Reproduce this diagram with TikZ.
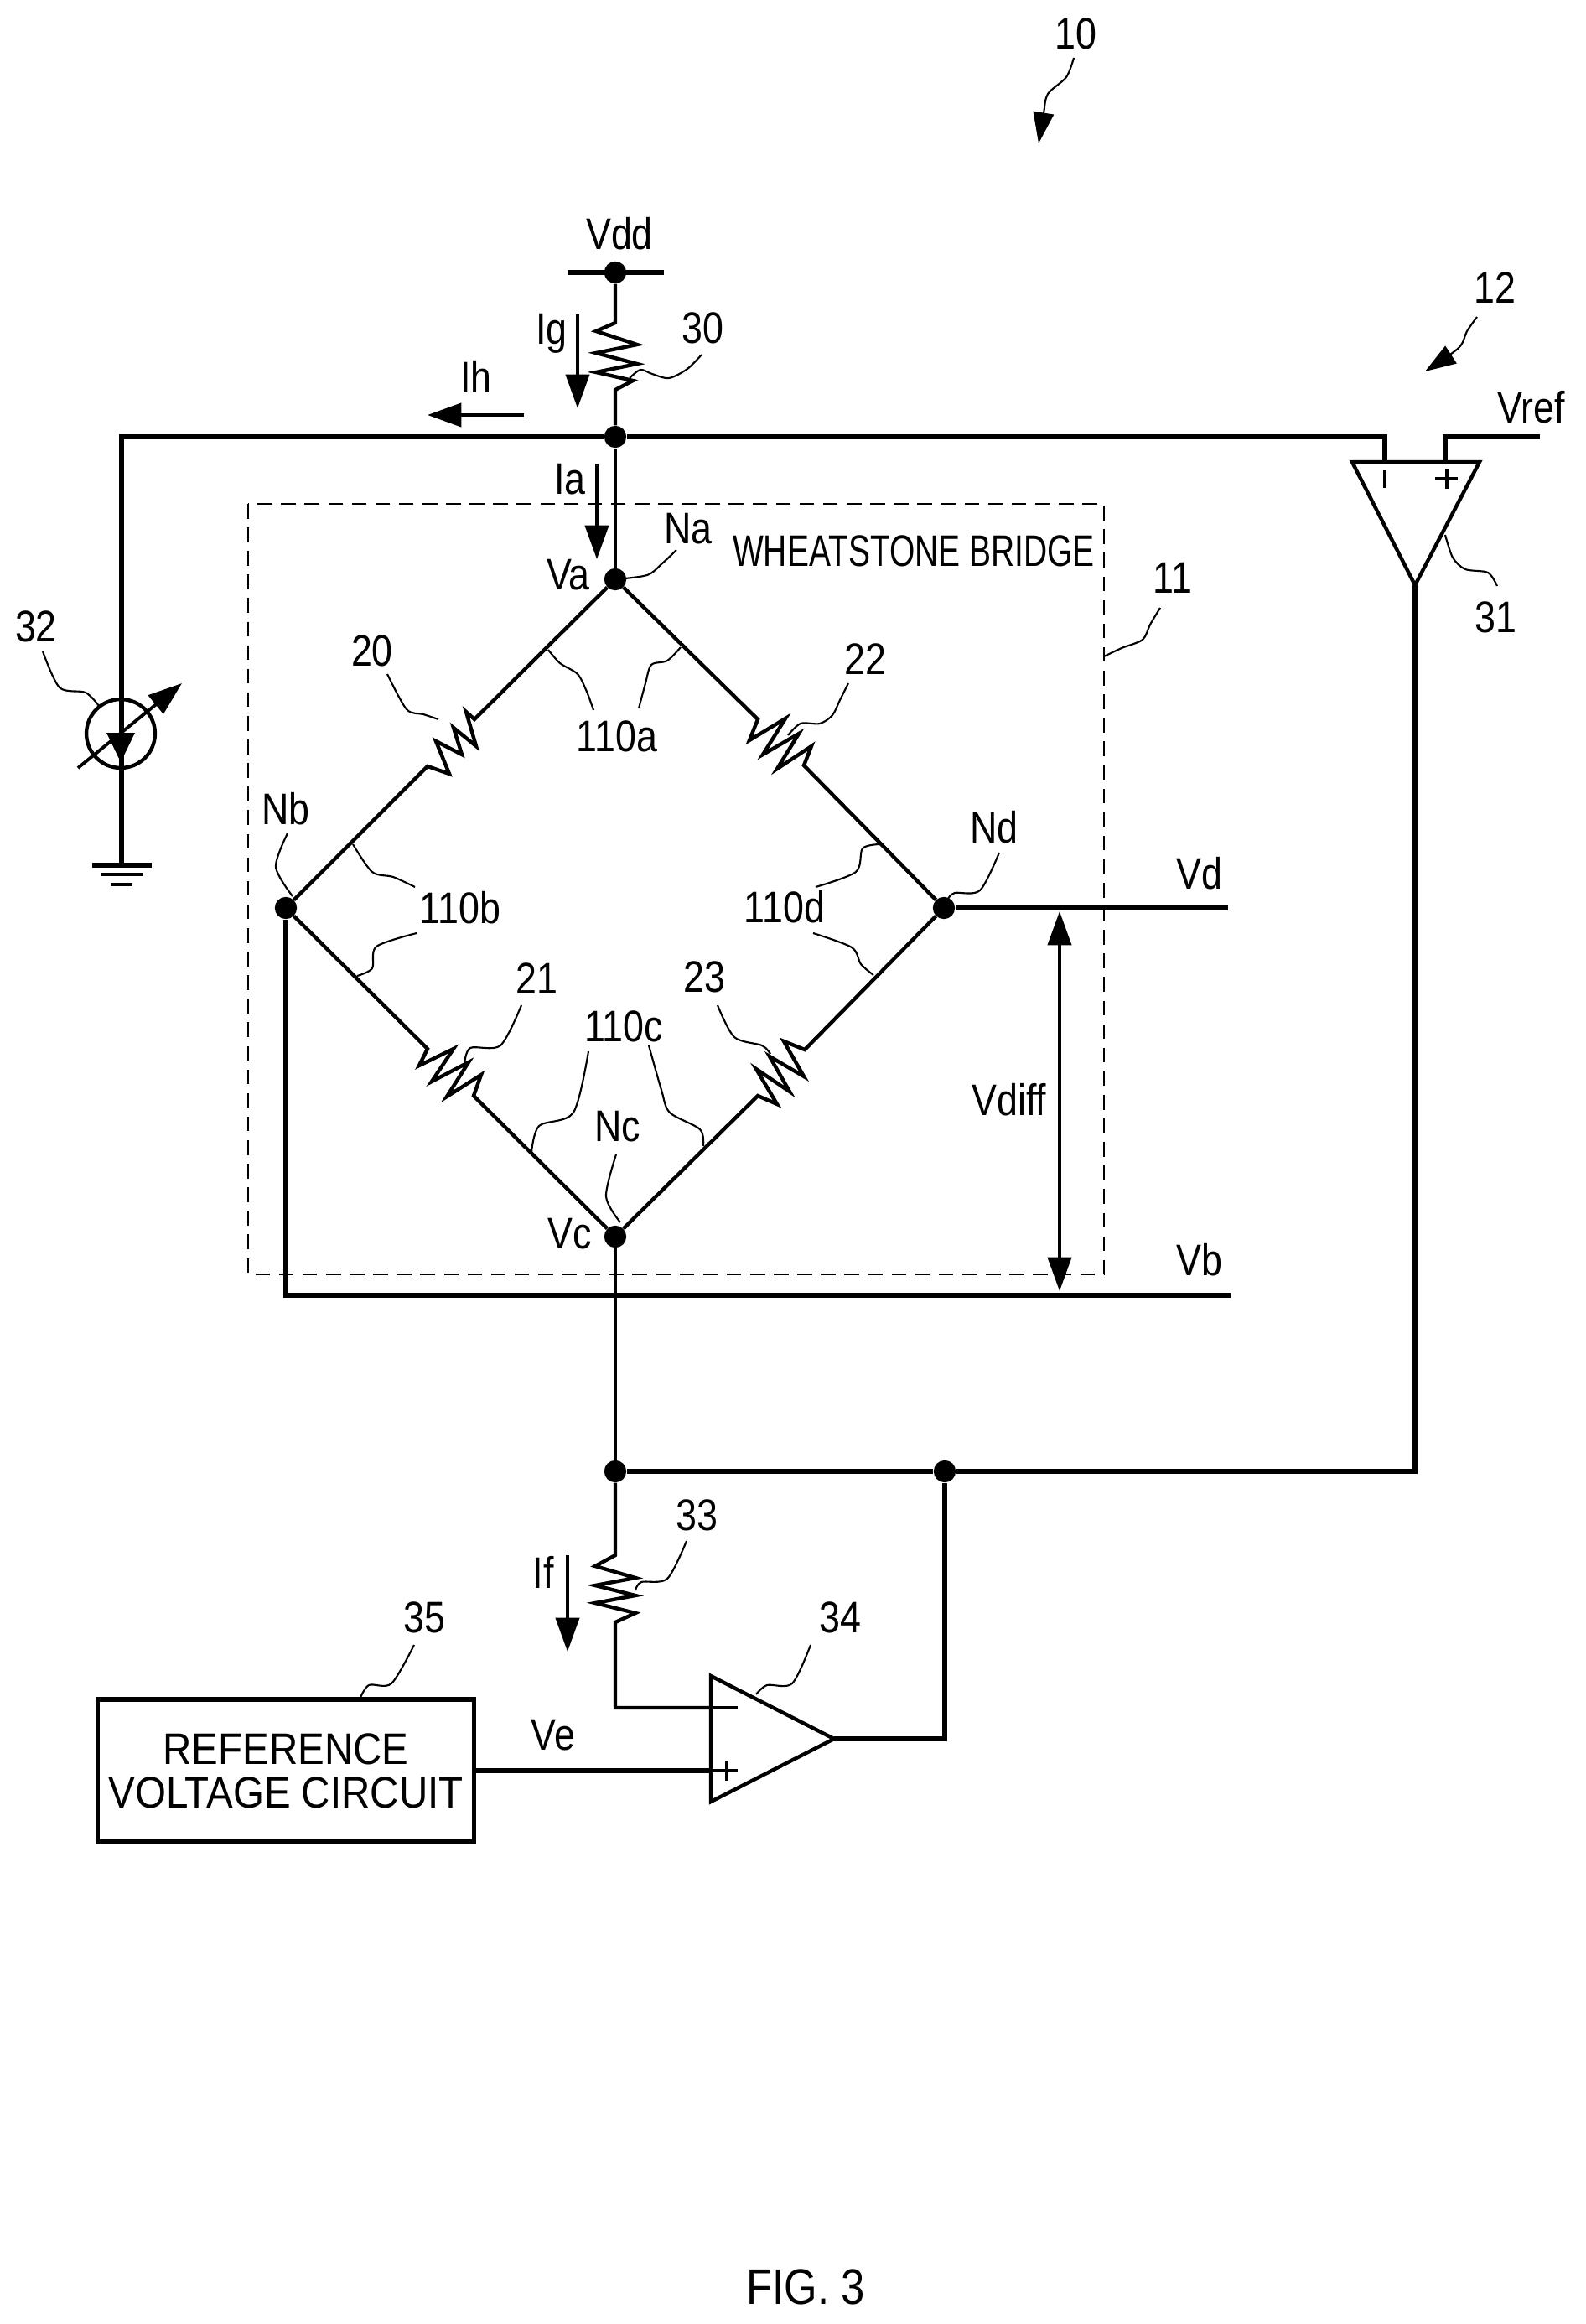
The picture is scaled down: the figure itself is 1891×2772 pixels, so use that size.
\documentclass[tikz,border=0pt]{standalone}
\usepackage{fontspec}
\setmainfont[FakeStretch=0.85]{Liberation Sans}
\usetikzlibrary{arrows.meta}
\tikzset{
  wire/.style={line width=3pt,line join=miter},
  thinwire/.style={line width=2.5pt,line join=miter},
  lead/.style={line width=1.2pt},
  txt/.style={inner sep=1pt,font=\fontsize{30}{30}\selectfont},
  dot/.style={circle,fill=black,inner sep=0pt,minimum size=15pt},
  curr/.style={line width=2.2pt,-{Triangle[length=23pt,width=16pt]}},
  both/.style={line width=2.2pt,{Triangle[length=23pt,width=16pt]}-{Triangle[length=23pt,width=16pt]}},
  refarrow/.style={line width=1.2pt,-{Triangle[length=21pt,width=14pt]}},
}

\begin{document}
\begin{tikzpicture}[x=0.02cm,y=-0.02cm]
  \useasboundingbox (0,0) rectangle (1891,2772);
  % junctions
  \node[dot] (Vdd) at (734,325) {};
  \node[dot] (top) at (734,521) {};
  \node[dot] (Na) at (734,691) {};
  \node[dot] (Nb) at (341,1083) {};
  \node[dot] (Nc) at (734,1475) {};
  \node[dot] (Nd) at (1126,1083) {};
  \node[dot] (fb1) at (734,1755) {};
  \node[dot] (fb2) at (1127,1755) {};
  % free wire ends
  \coordinate (VddL) at (677,325);
  \coordinate (VddR) at (792,325);
  \coordinate (railL) at (145,521);
  \coordinate (gnd) at (145,1032);
  \coordinate (VrefEnd) at (1837,521);
  \coordinate (VdEnd) at (1465,1083);
  \coordinate (VbEnd) at (1468,1545);
  % opamp 31
  \coordinate (u31a) at (1613,551);
  \coordinate (u31b) at (1765,551);
  \coordinate (u31o) at (1688,698);
  \coordinate (u31m) at (1652,551);
  \coordinate (u31p) at (1724,551);
  % opamp 34
  \coordinate (u34a) at (848,1999);
  \coordinate (u34b) at (848,2149);
  \coordinate (u34o) at (995,2074);
  \coordinate (u34m) at (848,2037);
  \coordinate (u34p) at (848,2112);
  % reference block
  \node[draw,line width=3pt,outer sep=0pt,minimum width=255.5pt,minimum height=96.7pt,align=center,
        font=\fontsize{30}{29.6}\selectfont] (ref35) at (341,2112) {\scalebox{1.06}[1]{REFERENCE}\\\scalebox{1.06}[1]{VOLTAGE CIRCUIT}};
  % bridge outline
  \draw[line width=1.5pt,dash pattern=on 10pt off 6pt] (296,601) rectangle (1317,1520);
  \node[txt] (wb) at (1090,657) {\scalebox{0.87}[1]{WHEATSTONE BRIDGE}};
  % supply and rail
  \draw[wire] (VddL) -- (VddR);
  \coordinate (r30a) at (734,385);
  \coordinate (r30b) at (734,465);
  \draw[thinwire] (Vdd) -- (r30a) -- (711,395) -- (760,411) -- (711,421) -- (760,434) -- (711,444) -- (755,454) -- (r30b) -- (top);
  \draw[wire] (gnd) -- (railL) -- (top) -- (top-|u31m) -- (u31m);
  \draw[wire] (u31p) -- (u31p|-VrefEnd) -- (VrefEnd);
  \draw[thinwire] (top) -- (Na);
  % bridge arms
  \coordinate (r20a) at (566,858);
  \coordinate (r20b) at (510,914);
  \draw[thinwire] (Na) -- (r20a) -- (556,849) -- (568,890) -- (541,868) -- (551,900) -- (520,884) -- (536,923) -- (r20b) -- (Nb);
  \coordinate (r22a) at (904,858);
  \coordinate (r22b) at (959,913);
  \draw[thinwire] (Na) -- (r22a) -- (894,883) -- (937,857) -- (910,900) -- (953,875) -- (927,917) -- (968,890) -- (r22b) -- (Nd);
  \coordinate (r21a) at (510,1251);
  \coordinate (r21b) at (565,1307);
  \draw[thinwire] (Nb) -- (r21a) -- (500,1271) -- (541,1251) -- (515,1290) -- (559,1267) -- (533,1308) -- (574,1282) -- (r21b) -- (Nc);
  \coordinate (r23a) at (960,1252);
  \coordinate (r23b) at (904,1307);
  \draw[thinwire] (Nd) -- (r23a) -- (935,1242) -- (959,1284) -- (918,1260) -- (942,1302) -- (902,1275) -- (927,1317) -- (r23b) -- (Nc);
  % outputs
  \draw[wire] (Nd) -- (VdEnd);
  \draw[wire] (Nb) |- (VbEnd);
  \draw[thinwire] (Nc) -- (fb1);
  % feedback
  \draw[wire] (fb1) -- (fb2);
  \draw[wire] (fb2) -| (u31o);
  \coordinate (r33a) at (734,1855);
  \coordinate (r33b) at (734,1935);
  \draw[thinwire] (fb1) -- (r33a) -- (710,1868) -- (758,1882) -- (710,1891) -- (758,1903) -- (710,1912) -- (758,1924) -- (r33b) -- (r33b|-u34m) -- (u34m);
  \draw[wire] (u34o) -| (fb2);
  \draw[wire] (ref35.east|-u34p) -- (u34p);
  % amplifiers
  \draw[thinwire] (u31a) -- (u31b) -- (u31o) -- cycle;
  \draw[thinwire] (u34a) -- (u34b) -- (u34o) -- cycle;
  \draw[line width=2.2pt] (u31m) ++(0,10) -- ++(0,21);
  \draw[line width=2.2pt] (1712,571) -- (1739,571) (1726,559) -- (1726,583);
  \draw[line width=2.2pt] (u34m) -- ++(32,0);
  \draw[line width=2.2pt] (u34p) -- ++(32,0) (867,2100) -- (867,2124);
  % source 32 and ground
  \node[draw,circle,line width=2.5pt,inner sep=0pt,minimum size=46.6pt] (src) at (144,875) {};
  \coordinate (srcA) at (93,916);
  \coordinate (srcB) at (217,815);
  \draw[line width=2.2pt,-{Triangle[length=23pt,width=16pt]}] (srcA) -- (srcB);
  \fill (127,874) -- (161,874) -- (144,909) -- cycle;
  \draw[wire] (110,1032) -- (181,1032);
  \draw[line width=2.5pt] (120,1043) -- (171,1043);
  \draw[line width=2.5pt] (132,1055) -- (158,1055);
  % currents
  \coordinate (ig1) at (689,375);
  \coordinate (ig2) at (689,487);
  \draw[curr] (ig1) -- (ig2);
  \coordinate (ih1) at (625,495);
  \coordinate (ih2) at (510,495);
  \draw[curr] (ih1) -- (ih2);
  \coordinate (ia1) at (712,553);
  \coordinate (ia2) at (712,667);
  \draw[curr] (ia1) -- (ia2);
  \coordinate (if1) at (677,1855);
  \coordinate (if2) at (677,1970);
  \draw[curr] (if1) -- (if2);
  \coordinate (vd1) at (1264,1087);
  \coordinate (vd2) at (1264,1540);
  \draw[both] (vd1) -- (vd2);
  % labels
  \node[txt] (n10) at (1283,40) {10};
  \node[txt] (n11) at (1399,689) {11};
  \node[txt] (n12) at (1783,343) {12};
  \node[txt] (n20) at (444,776) {20};
  \node[txt] (n21) at (640,1167) {21};
  \node[txt] (n22) at (1032,786) {22};
  \node[txt] (n23) at (840,1165) {23};
  \node[txt] (n30) at (838,391) {30};
  \node[txt] (n31) at (1784,736) {31};
  \node[txt] (n32) at (43,747) {32};
  \node[txt] (n33) at (831,1807) {33};
  \node[txt] (n34) at (1002,1929) {34};
  \node[txt] (n35) at (506,1929) {35};
  \node[txt] (n110a) at (736,878) {110a};
  \node[txt] (n110b) at (549,1083) {110b};
  \node[txt] (n110c) at (744,1224) {110c};
  \node[txt] (n110d) at (936,1082) {110d};
  \node[txt] (tVdd) at (739,279) {Vdd};
  \node[txt] (tIg) at (658,398) {Ig};
  \node[txt] (tIh) at (568,449) {Ih};
  \node[txt] (tIa) at (680,572) {Ia};
  \node[txt] (tIf) at (648,1875) {If};
  \node[txt] (tVref) at (1827,486) {Vref};
  \node[txt] (tVa) at (678,686) {Va};
  \node[txt] (tVc) at (680,1472) {Vc};
  \node[txt] (tVd) at (1431,1042) {Vd};
  \node[txt] (tVb) at (1431,1503) {Vb};
  \node[txt] (tVe) at (660,2070) {Ve};
  \node[txt] (tVdiff) at (1204,1312) {Vdiff};
  \node[txt] (tNa) at (821,631) {Na};
  \node[txt] (tNb) at (341,965) {Nb};
  \node[txt] (tNc) at (737,1344) {Nc};
  \node[txt] (tNd) at (1186,987) {Nd};
  \node[font=\fontsize{34}{34}\selectfont] (fig) at (961,2728) {FIG. 3};
  % leaders
  \draw[refarrow] plot[smooth] coordinates {(1281,69) (1272,92) (1250,112) (1245,135) (1239,171)};
  \draw[refarrow] plot[smooth] coordinates {(1762,378) (1750,395) (1740,415) (1700,443)};
  \draw[lead] plot[smooth] coordinates {(837,423) (820,440) (798,451) (778,446) (764,441) (751,451)};
  \draw[lead] plot[smooth] coordinates {(Na) (772,686) (790,672) (807,656)};
  \draw[lead] plot[smooth] coordinates {(1384,725) (1372,745) (1363,763) (1338,773) (1317,783)};
  \draw[lead] plot[smooth] coordinates {(1724,638) (1733,665) (1748,679) (1775,683) (1786,699)};
  \draw[lead] plot[smooth] coordinates {(1012,815) (1002,835) (993,853) (978,863) (955,863) (940,877)};
  \draw[lead] plot[smooth] coordinates {(51,777) (71,820) (102,826) (118,842)};
  \draw[lead] plot[smooth] coordinates {(462,804) (485,846) (505,852) (523,858)};
  \draw[lead] plot[smooth] coordinates {(654,775) (668,791) (689,804) (700,825) (708,847)};
  \draw[lead] plot[smooth] coordinates {(812,772) (796,788) (777,793) (770,815) (762,845)};
  \draw[lead] plot[smooth] coordinates {(343,994) (329,1034) (349,1069)};
  \draw[lead] plot[smooth] coordinates {(421,1007) (444,1040) (469,1046) (495,1058)};
  \draw[lead] plot[smooth] coordinates {(497,1113) (449,1129) (444,1155) (426,1164)};
  \draw[lead] plot[smooth] coordinates {(622,1199) (597,1247) (561,1250) (554,1270)};
  \draw[lead] plot[smooth] coordinates {(702,1254) (684,1327) (643,1343) (634,1375)};
  \draw[lead] plot[smooth] coordinates {(774,1247) (789,1300) (799,1327) (835,1347) (839,1367)};
  \draw[lead] plot[smooth] coordinates {(735,1377) (723,1427) (740,1458)};
  \draw[lead] plot[smooth] coordinates {(856,1199) (876,1237) (909,1247) (919,1257)};
  \draw[lead] plot[smooth] coordinates {(973,1058) (1021,1040) (1029,1012) (1049,1007)};
  \draw[lead] plot[smooth] coordinates {(970,1113) (1016,1130) (1027,1150) (1042,1163)};
  \draw[lead] plot[smooth] coordinates {(1192,1017) (1169,1062) (1139,1065) (1131,1072)};
  \draw[lead] plot[smooth] coordinates {(819,1838) (796,1883) (765,1887) (758,1897)};
  \draw[lead] plot[smooth] coordinates {(494,1962) (467,2008) (440,2010) (429,2027)};
  \draw[lead] plot[smooth] coordinates {(967,1962) (945,2008) (915,2010) (902,2021)};
\end{tikzpicture}
\end{document}
